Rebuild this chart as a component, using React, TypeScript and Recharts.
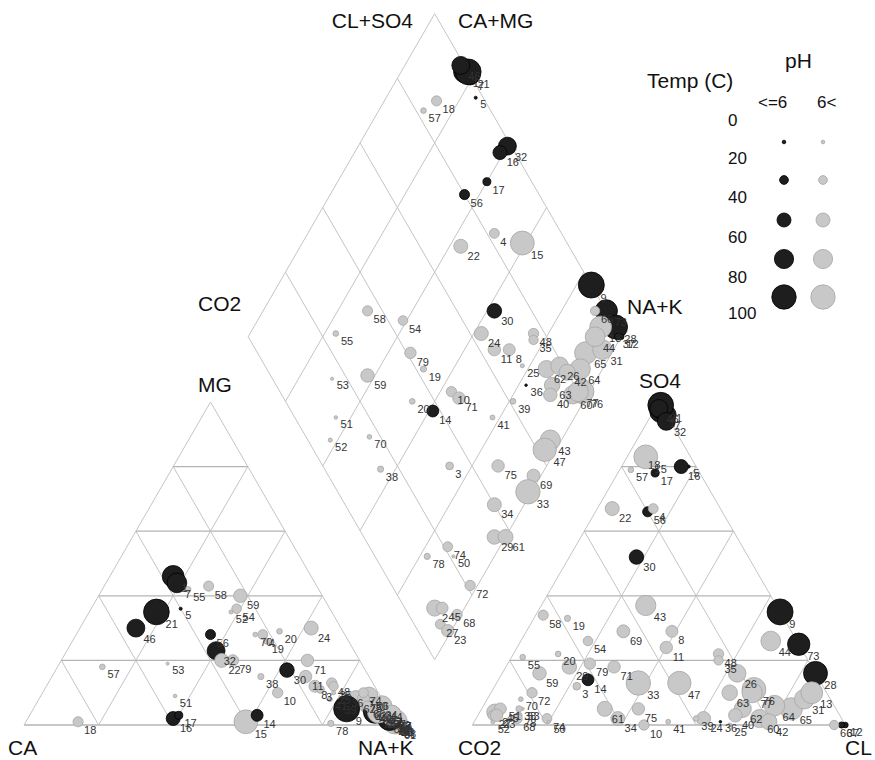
import { ScatterChart, Scatter, XAxis, YAxis, ReferenceLine } from "recharts";

// sample numbers as printed next to each point
const sampleIds = [1, 7, 21, 46, 5, 57, 18, 32, 16, 17, 56, 22, 4, 15, 30, 58, 54, 55, 24, 11, 8, 79, 19, 20, 10, 71, 14, 51, 52, 70, 53, 59, 38, 3, 41, 39, 36, 48, 35, 25, 62, 63, 40, 65, 31, 64, 76, 60, 26, 42, 43, 47, 75, 69, 33, 34, 29, 61, 74, 78, 50, 72, 2, 45, 27, 68, 23, 9, 73, 28, 12, 37, 13, 44, 66, 77];
// cations (% of meq)
const naK = [17, 19, 18, 15, 24, 12, 14, 40, 39, 40, 36, 43, 50, 59, 62, 28, 39, 23, 62, 68, 72, 46, 52, 54, 63, 66, 61, 36, 38, 48, 29, 38, 56, 74, 78, 81, 82, 76, 77, 78, 85, 89, 90, 93, 97, 94, 98, 96, 88, 91, 97, 97, 87, 98, 99, 92, 97, 100, 86, 82, 89, 98, 92, 94, 96, 99, 99, 84, 92, 97, 100, 99, 93, 93, 89, 97];
const mg = [46, 44, 35, 30, 36, 18, 1, 23, 2, 3, 28, 20, 28, 1, 17, 43, 36, 42, 30, 15, 12, 20, 26, 29, 10, 20, 3, 9, 35, 28, 19, 40, 15, 11, 8, 7, 9, 13, 12, 10, 8, 6, 5, 4, 2, 4, 1.5, 2, 9, 5, 3, 2, 8, 2, 1, 6, 3, 0, 10, 0.5, 8, 1, 6, 4, 3, 0.5, 0.5, 5, 4, 2, 0, 0.5, 4, 6, 6, 3];
// anions (% of meq)
const clSo4 = [99, 100, 100, 99, 98, 82, 87, 99, 96, 88, 80, 71, 82, 88, 70, 36, 44, 24, 63, 64, 68, 41, 42, 34, 46, 47, 38, 11, 6, 17, 16, 26, 15, 34, 53, 61, 67, 77, 76, 69, 75, 74, 72, 88, 93, 84, 81, 78, 79, 80, 65, 62, 47, 55, 51, 40, 35, 38, 21, 14, 21, 21, 8, 10, 7, 13, 8, 100, 100, 100, 100, 99, 96, 93, 97, 80];
const so4 = [97, 96, 99, 98, 80, 79, 83, 94, 80, 78, 66, 67, 67, 83, 52, 34, 26, 21, 2, 24, 29, 19, 33, 22, 0, 18, 14, 5, 1, 8, 5, 16, 5, 12, 1, 2, 1, 22, 20, 0, 5, 10, 3, 5, 8, 6, 11, 2, 16, 1, 37, 13, 5, 29, 13, 2, 18, 5, 2, 3, 1, 10, 4, 5, 3, 2, 3, 35, 25, 16, 0, 0, 10, 26, 0, 10];
const tempC = [80, 72, 95, 65, 8, 18, 35, 65, 50, 27, 35, 50, 34, 88, 52, 35, 33, 18, 50, 44, 42, 40, 20, 18, 36, 44, 42, 10, 12, 14, 8, 48, 20, 26, 15, 18, 6, 36, 32, 12, 62, 56, 48, 82, 72, 75, 88, 66, 64, 58, 74, 86, 44, 46, 90, 50, 52, 54, 34, 20, 8, 36, 58, 42, 34, 36, 44, 96, 82, 88, 18, 20, 80, 72, 32, 74];
// pH <= 6
const acidic = [1, 1, 1, 1, 1, 0, 0, 1, 1, 1, 1, 0, 0, 0, 1, 0, 0, 0, 0, 0, 0, 0, 0, 0, 0, 0, 1, 0, 0, 0, 0, 0, 0, 0, 0, 0, 1, 0, 0, 0, 0, 0, 0, 0, 0, 0, 0, 0, 0, 0, 0, 0, 0, 0, 0, 0, 0, 0, 0, 0, 0, 0, 0, 0, 0, 0, 0, 1, 1, 1, 1, 1, 0, 0, 0, 0];

const legendTemps = ["0", "20", "40", "60", "80", "100"];
const legendSizes = [10, 30, 50, 70, 90];

const H = Math.sqrt(3) / 2;
const GAP = 20.2;
const FONT = "'Liberation Sans', Arial, sans-serif";

const radius = (t: number) => 0.5 + 0.13 * t;

type Pt = { x: number; y: number; id: number; temp: number; acid: boolean };

const points: Pt[] = [];
sampleIds.forEach((id, i) => {
  const n = naK[i];
  const m = mg[i];
  const a = clSo4[i];
  const s = so4[i];
  const base = { id, temp: tempC[i], acid: acidic[i] === 1 };
  points.push({ ...base, x: n + m / 2, y: m * H });
  points.push({ ...base, x: 100 + GAP + (a - s) + s / 2, y: s * H });
  points.push({ ...base, x: (100 + GAP + a + n) / 2, y: H * (100 + GAP + a - n) });
});

type Seg = [number, number, number, number, boolean];

function triangleGrid(x0: number): Seg[] {
  const segs: Seg[] = [
    [x0, 0, x0 + 100, 0, true],
    [x0, 0, x0 + 50, 100 * H, false],
    [x0 + 100, 0, x0 + 50, 100 * H, false],
  ];
  [20, 40, 60, 80].forEach((k) => {
    segs.push([x0 + k / 2, k * H, x0 + 100 - k / 2, k * H, true]);
    segs.push([x0 + k, 0, x0 + k + (100 - k) / 2, (100 - k) * H, false]);
    segs.push([x0 + 100 - k, 0, x0 + (100 - k) / 2, (100 - k) * H, false]);
  });
  return segs;
}

function diamondGrid(): Seg[] {
  const bx = 100 + GAP / 2;
  const by = GAP * H;
  const segs: Seg[] = [];
  [0, 20, 40, 60, 80, 100].forEach((k) => {
    const rx = bx + k * 0.5;
    const ry = by + k * H;
    segs.push([rx, ry, rx - 50, ry + 100 * H, false]);
    const lx = bx - k * 0.5;
    segs.push([lx, ry, lx + 50, ry + 100 * H, false]);
  });
  return segs;
}

const gridSegs = [...triangleGrid(0), ...triangleGrid(100 + GAP), ...diamondGrid()];

const Dot = (props: any) => {
  const { cx, cy, payload } = props;
  if (cx == null || cy == null) return null;
  const black = payload.acid;
  return (
    <circle
      cx={cx}
      cy={cy}
      r={radius(payload.temp)}
      fill={black ? "#1e1e1e" : "#c8c8c8"}
      stroke={black ? "#000" : "#a6a6a6"}
      strokeWidth={0.8}
    />
  );
};

const Tag = (props: any) => {
  const { cx, cy, payload } = props;
  if (cx == null || cy == null) return null;
  const r = radius(payload.temp);
  return (
    <text x={cx + 0.4 * r + 4} y={cy + 0.5 * r + 10} fontSize={11} fontFamily={FONT} fill="#333" opacity={0.99}>
      {payload.id}
    </text>
  );
};

const axisText = (label: string, x: number, y: number, anchor: "start" | "end" = "start") => (
  <text key={label + x} x={x} y={y} fontSize={21} fontFamily={FONT} fill="#111" textAnchor={anchor}>
    {label}
  </text>
);

export default function App() {
  return (
    <div style={{ position: "absolute", left: 0, top: 0, width: 875, height: 760, background: "#fff" }}>
      <ScatterChart width={875} height={760} margin={{ top: 0, right: 0, bottom: 0, left: 0 }}>
        <XAxis type="number" dataKey="x" domain={[-24 / 3.73, 851 / 3.73]} allowDataOverflow hide />
        <YAxis type="number" dataKey="y" domain={[-35 / 3.73, 725 / 3.73]} allowDataOverflow hide />
        {gridSegs.map((s, i) => (
          <ReferenceLine
            key={i}
            segment={[{ x: s[0], y: s[1] }, { x: s[2], y: s[3] }]}
            stroke={s[4] ? "#b4b4b4" : "#c4c4c4"}
            strokeWidth={s[4] ? 1.3 : 1}
            ifOverflow="visible"
          />
        ))}
        <Scatter data={points} shape={Dot} isAnimationActive={false} />
        <Scatter data={points} shape={Tag} isAnimationActive={false} />
      </ScatterChart>
      <svg width={875} height={760} style={{ position: "absolute", left: 0, top: 0, pointerEvents: "none" }}>
        {axisText("CL+SO4", 413, 28, "end")}
        {axisText("CA+MG", 458, 28)}
        {axisText("CO2", 198, 311)}
        {axisText("NA+K", 627, 314)}
        {axisText("MG", 198, 392)}
        {axisText("SO4", 639, 388)}
        {axisText("CA", 8, 755)}
        {axisText("NA+K", 358, 755)}
        {axisText("CO2", 458, 755)}
        {axisText("CL", 845, 755)}
        {axisText("Temp (C)", 647, 88)}
        {axisText("pH", 785, 68)}
        <text x={758} y={108} fontSize={17} fontFamily={FONT} fill="#111">&lt;=6</text>
        <text x={817} y={108} fontSize={17} fontFamily={FONT} fill="#111">6&lt;</text>
        {legendTemps.map((t, i) => (
          <text key={t} x={728} y={[126, 164, 203, 243, 283, 319][i]} fontSize={17} fontFamily={FONT} fill="#111">
            {t}
          </text>
        ))}
        {legendSizes.map((t, i) => {
          const cy = [142, 180, 220, 259, 297][i];
          return (
            <g key={t}>
              <circle cx={784} cy={cy} r={radius(t)} fill="#1e1e1e" stroke="#000" strokeWidth={0.8} />
              <circle cx={823} cy={cy} r={radius(t)} fill="#c8c8c8" stroke="#a6a6a6" strokeWidth={0.8} />
            </g>
          );
        })}
      </svg>
    </div>
  );
}
